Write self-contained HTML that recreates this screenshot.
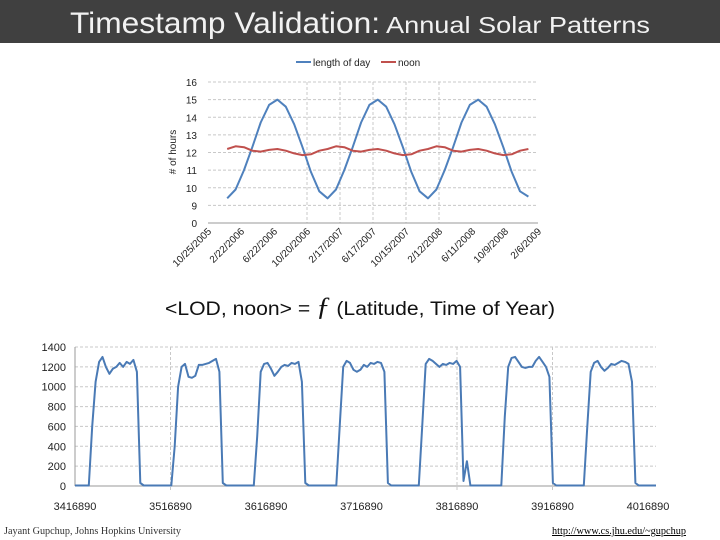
<!DOCTYPE html>
<html><head><meta charset="utf-8">
<style>
html,body{margin:0;padding:0;background:#fff;}
#root{position:relative;width:720px;height:540px;overflow:hidden;font-family:"Liberation Sans",sans-serif;}
</style></head>
<body>
<div id="root">
<svg id="svg" width="720" height="540" viewBox="0 0 720 540" font-family="Liberation Sans, sans-serif">
  <rect x="0" y="0" width="720" height="43" fill="#404040"/>
  <text x="70" y="33" fill="#f2f2f2"><tspan font-size="30" textLength="310" lengthAdjust="spacingAndGlyphs">Timestamp Validation:</tspan><tspan font-size="23" dx="6" textLength="264" lengthAdjust="spacingAndGlyphs">Annual Solar Patterns</tspan></text>
  <text x="165" y="315" font-size="19" fill="#111" textLength="390" lengthAdjust="spacingAndGlyphs"><tspan>&lt;LOD, noon&gt; = </tspan><tspan font-size="26" font-style="italic" font-family="Liberation Serif, serif">ƒ</tspan><tspan> (Latitude, Time of Year)</tspan></text>
  <text x="4" y="534" font-size="10" fill="#333" font-family="Liberation Serif, serif" textLength="177" lengthAdjust="spacingAndGlyphs">Jayant Gupchup, Johns Hopkins University</text>
  <text x="552" y="534" font-size="10" fill="#000" text-decoration="underline" font-family="Liberation Serif, serif" textLength="134" lengthAdjust="spacingAndGlyphs">http://www.cs.jhu.edu/~gupchup</text>
  <g id="topChart"></g>
  <g id="botChart"></g>
</svg>
</div>
<script>
// ---------- top chart data ----------
const dateLabels = ["10/25/2005","2/22/2006","6/22/2006","10/20/2006","2/17/2007","6/17/2007","10/15/2007","2/12/2008","6/11/2008","10/9/2008","2/6/2009"];
const yTickLabels = ["0","9","10","11","12","13","14","15","16"];
const yTickValues = [8,9,10,11,12,13,14,15,16];
const monthStart = 2.3;
const lengthOfDay = [9.4,9.9,11.0,12.3,13.7,14.7,15.0,14.6,13.6,12.3,10.9,9.8,
                     9.4,9.9,11.0,12.3,13.7,14.7,15.0,14.6,13.6,12.3,10.9,9.8,
                     9.4,9.9,11.0,12.3,13.7,14.7,15.0,14.6,13.6,12.3,10.9,9.8,9.5];
const noonHours = [12.2,12.35,12.3,12.1,12.05,12.15,12.2,12.1,11.95,11.85,11.9,12.1,
                   12.2,12.35,12.3,12.1,12.05,12.15,12.2,12.1,11.95,11.85,11.9,12.1,
                   12.2,12.35,12.3,12.1,12.05,12.15,12.2,12.1,11.95,11.85,11.9,12.1,12.2];
// ---------- bottom chart data ----------
const xStartUnits = 3416890;
const stepUnits = 3600;
const xTickLabels = ["3416890","3516890","3616890","3716890","3816890","3916890","4016890"];
const xTickValues = [3416890,3516890,3616890,3716890,3816890,3916890,4016890];
const bTickValues = [0,200,400,600,800,1000,1200,1400];
const sensorValues = [
5,5,5,5,5,600,1050,1250,1300,1200,1130,1180,1200,1240,1200,1250,1230,1270,1150,30,5,5,5,5,
5,5,5,5,5,400,1000,1200,1230,1100,1090,1110,1220,1220,1230,1240,1260,1280,1150,30,5,5,5,5,
5,5,5,5,5,500,1150,1230,1240,1180,1110,1150,1200,1220,1210,1240,1230,1250,1050,30,5,5,5,5,
5,5,5,5,5,600,1200,1260,1240,1170,1150,1170,1220,1200,1240,1230,1250,1240,1150,30,5,5,5,5,
5,5,5,5,5,600,1230,1280,1260,1230,1200,1230,1220,1240,1230,1260,1200,50,250,5,5,5,5,5,
5,5,5,5,5,700,1200,1290,1300,1250,1200,1190,1200,1200,1260,1300,1250,1200,1100,30,5,5,5,5,
5,5,5,5,5,600,1150,1240,1260,1200,1160,1190,1230,1220,1240,1260,1250,1230,1050,30,5,5,5,5,
5,5];

const NS="http://www.w3.org/2000/svg";
function mk(parent,tag,attrs){const e=document.createElementNS(NS,tag);for(const k in attrs)e.setAttribute(k,attrs[k]);parent.appendChild(e);return e;}

// ---- top chart ----
const topG=document.getElementById('topChart');
const tx0=208,tx1=538,ty0=223,ty1=82;
const totalMonths=39.45;
function txs(m){return tx0+(m/totalMonths)*(tx1-tx0);}
function tys(v){return ty0-(v-8)/(16-8)*(ty0-ty1);}
yTickValues.forEach((v,i)=>{
  if(v>8){const g=mk(topG,'line',{x1:tx0,x2:tx1,y1:tys(v),y2:tys(v),stroke:'#c8c8c8','stroke-dasharray':'3,2','stroke-width':1});
  
  }
  const t=mk(topG,'text',{x:197,y:tys(v)+4,'font-size':10,'text-anchor':'end',fill:'#222'});
  t.textContent=yTickLabels[i];
  
  
});
dateLabels.forEach((d,i)=>{
  const x=tx0+i*(tx1-tx0)/(dateLabels.length-1);
  if(i>=3&&i<=7){const g=mk(topG,'line',{x1:x,x2:x,y1:ty1,y2:ty0,stroke:'#c8c8c8','stroke-dasharray':'3,2'});
  
  }
  const t=mk(topG,'text',{x:x+4,y:232,'font-size':10,'text-anchor':'end',fill:'#222',transform:`rotate(-45 ${x+4} 232)`});
  t.textContent=d;
  
  
});
const ax=mk(topG,'line',{x1:tx0,x2:tx1,y1:ty0,y2:ty0,stroke:'#999'});


const yt=mk(topG,'text',{x:176,y:152,'font-size':10,'text-anchor':'middle',fill:'#222',transform:'rotate(-90 176 152)'});
yt.textContent='# of hours';


function tpath(arr){return arr.map((v,i)=>(i?'L':'M')+txs(monthStart+i).toFixed(1)+','+tys(v).toFixed(1)).join(' ');}
const l1=mk(topG,'path',{d:tpath(lengthOfDay),fill:'none',stroke:'#4F81BD','stroke-width':2,'stroke-linejoin':'round'});


const l2=mk(topG,'path',{d:tpath(noonHours),fill:'none',stroke:'#C0504D','stroke-width':2,'stroke-linejoin':'round'});


const lg1=mk(topG,'line',{x1:296,x2:311,y1:62,y2:62,stroke:'#4F81BD','stroke-width':2});


const lt1=mk(topG,'text',{x:313,y:66,'font-size':10,fill:'#222'});
lt1.textContent='length of day';


const lg2=mk(topG,'line',{x1:381,x2:396,y1:62,y2:62,stroke:'#C0504D','stroke-width':2});


const lt2=mk(topG,'text',{x:398,y:66,'font-size':10,fill:'#222'});
lt2.textContent='noon';



// ---- bottom chart ----
const botG=document.getElementById('botChart');
const bx0=75,bx1=648,by0=486,by1=347;
function bxs(u){return bx0+(u-3416890)/600000*(bx1-bx0);}
function bys(v){return by0-v/1400*(by0-by1);}
const plotRight=656;
bTickValues.forEach(v=>{
  if(v>0){const g=mk(botG,'line',{x1:bx0,x2:plotRight,y1:bys(v),y2:bys(v),stroke:'#c8c8c8','stroke-dasharray':'3,2'});
  
  }
  const t=mk(botG,'text',{x:66,y:bys(v)+4,'font-size':11,'text-anchor':'end',fill:'#222'});
  t.textContent=String(v);
  
  
});
xTickValues.forEach((u,i)=>{
  const x=bxs(u);
  if(i===1||i===4||i===5){const g=mk(botG,'line',{x1:x,x2:x,y1:by1,y2:by0+4,stroke:'#c8c8c8','stroke-dasharray':'3,2'});
  
  }
  const t=mk(botG,'text',{x:x,y:510,'font-size':11,'text-anchor':'middle',fill:'#222'});
  t.textContent=xTickLabels[i];
  
  
});
const bax=mk(botG,'line',{x1:bx0,x2:plotRight,y1:by0,y2:by0,stroke:'#999'});


const bay=mk(botG,'line',{x1:bx0,x2:bx0,y1:by1,y2:by0,stroke:'#999'});


const sp=mk(botG,'path',{d:sensorValues.map((v,i)=>(i?'L':'M')+bxs(xStartUnits+i*stepUnits).toFixed(1)+','+bys(v).toFixed(1)).join(' '),fill:'none',stroke:'#4a7ab5','stroke-width':2,'stroke-linejoin':'round'});


</script>
</body></html>
